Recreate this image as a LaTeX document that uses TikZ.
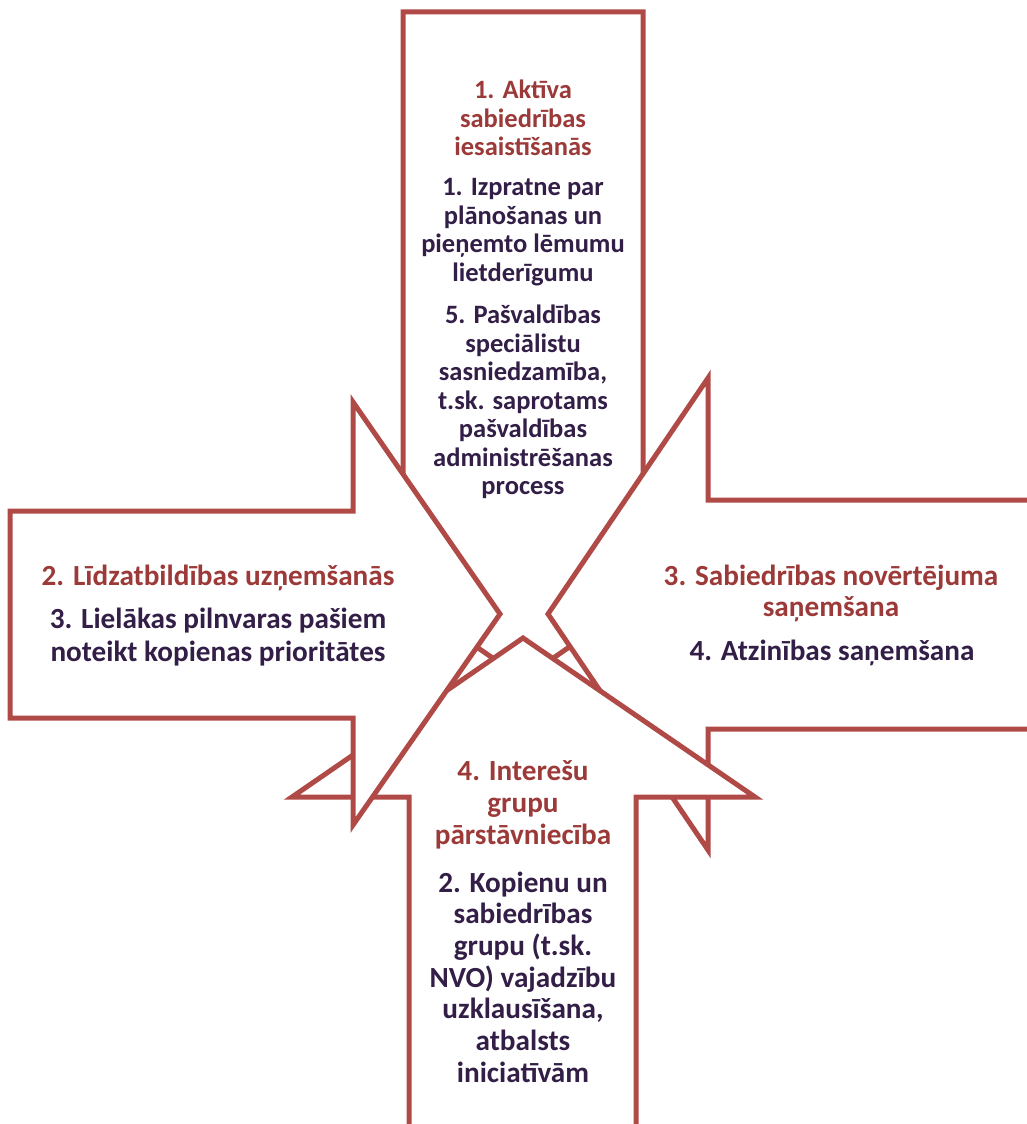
\documentclass[tikz,border=0pt]{standalone}
\usepackage{fontspec}
\setmainfont{Carlito}
\definecolor{arrowline}{RGB}{176,74,71}
\definecolor{headred}{RGB}{155,58,56}
\definecolor{bodydark}{RGB}{50,30,70}
\begin{document}
\begin{tikzpicture}[x=1pt,y=-1pt,
  arrowshape/.style={draw=arrowline,fill=white,line width=5pt,line join=miter},
  headtxt/.style={text=headred,align=center,inner sep=0pt},
  bodytxt/.style={text=bodydark,align=center,inner sep=0pt},
  smalltxt/.style={font=\fontsize{26.5}{28.5}\selectfont\bfseries},
  bigtxt/.style={font=\fontsize{29.2}{32}\selectfont\bfseries}]
\useasboundingbox (0,0) rectangle (1027,1124);
% top arrow (lowest)
\draw[arrowshape] (403,12) -- (643,12) -- (643,520) -- (753,520) -- (523,679) -- (293,520) -- (403,520) -- cycle;
% right arrow
\draw[arrowshape] (1045,500) -- (708,500) -- (708,378) -- (548,614) -- (708,850) -- (708,729) -- (1045,729) -- cycle;
% bottom arrow
\draw[arrowshape] (409,1145) -- (409,797) -- (292,797) -- (523,638) -- (755,797) -- (636,797) -- (636,1145) -- cycle;
% left arrow
\draw[arrowshape] (10,511) -- (353,511) -- (353,402) -- (500,614) -- (353,825) -- (353,718) -- (10,718) -- cycle;
% texts
\node[headtxt,smalltxt] (t1) at (523,118) {1. Aktīva\\sabiedrības\\iesaistīšanās};
\node[bodytxt,smalltxt] (t2) at (523,232) {1. Izpratne par\\plānošanas un\\pieņemto lēmumu\\lietderīgumu};
\node[bodytxt,smalltxt] (t3) at (523,402) {5. Pašvaldības\\speciālistu\\sasniedzamība,\\t.sk. saprotams\\pašvaldības\\administrēšanas\\process};
\node[headtxt,bigtxt] (l1) at (218,578) {2. Līdzatbildības uzņemšanās};
\node[bodytxt,bigtxt,font=\fontsize{29.2}{33}\selectfont\bfseries] (l2) at (218,637) {3. Lielākas pilnvaras pašiem\\noteikt kopienas prioritātes};
\node[headtxt,bigtxt,font=\fontsize{29.2}{31}\selectfont\bfseries] (r1) at (831,593) {3. Sabiedrības novērtējuma\\saņemšana};
\node[bodytxt,bigtxt] (r2) at (832,653) {4. Atzinības saņemšana};
\node[headtxt,bigtxt] (b1) at (523,805) {4. Interešu\\grupu\\pārstāvniecība};
\node[bodytxt,bigtxt,font=\fontsize{29.2}{31.7}\selectfont\bfseries] (b2) at (523,977) {2. Kopienu un\\sabiedrības\\grupu (t.sk.\\NVO) vajadzību\\uzklausīšana,\\atbalsts\\iniciatīvām};
\end{tikzpicture}
\end{document}
